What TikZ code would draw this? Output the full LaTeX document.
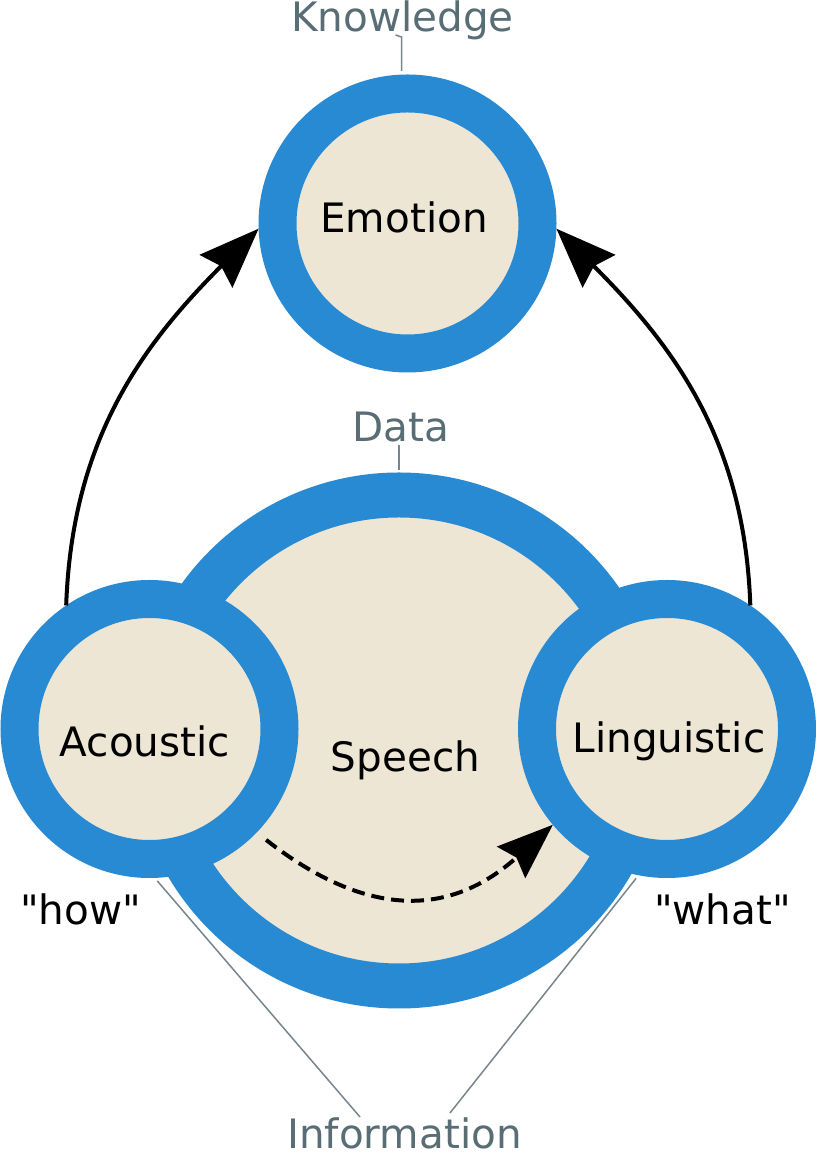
\documentclass[tikz,border=0pt]{standalone}
\usepackage{fontspec}
\setmainfont{DejaVu Sans}[Ligatures=TeXOff]
\usetikzlibrary{arrows.meta}

\definecolor{ringblue}{RGB}{41,138,212}
\definecolor{paper}{RGB}{237,230,213}
\definecolor{slate}{RGB}{88,109,116}
\definecolor{slateline}{RGB}{118,134,140}

\begin{document}
\begin{tikzpicture}[x=1pt, y=1pt,
  ring/.style={circle, draw=ringblue, fill=paper, inner sep=0pt},
  word/.style={anchor=base, inner sep=0pt, font=\fontsize{40.5}{48}\selectfont},
  tag/.style={word, text=slate},
  leader/.style={draw=slateline, line width=1.5pt},
  flow/.style={line width=4pt, -{Stealth[length=60pt, width=46pt, inset=7pt]}}]

  \useasboundingbox (0,0) rectangle (816,1159);

  % data circle
  \node[ring, line width=45pt, minimum size=491pt] (speech) at (399,418.5) {};
  % information circles
  \node[ring, line width=38pt, minimum size=260pt] (acoustic) at (149.5,430) {};
  \node[ring, line width=38pt, minimum size=260pt] (linguistic) at (667,430) {};
  % knowledge circle
  \node[ring, line width=38pt, minimum size=260pt] (emotion) at (407.5,935.5) {};

  % texts in the circles
  \node[word] (emotiontext) at (404,926) {Emotion};
  \node[word] (speechtext) at (405.5,387.3) {Speech};
  \node[word] (acoustictext) at (145,402) {Acoustic};
  \node[word] (linguistictext) at (669,406) {Linguistic};
  \node[word] (howtext) at (80.5,234) {"how"};
  \node[word] (whattext) at (722.5,234) {"what"};

  % level names
  \node[tag] (knowledge) at (402.5,1127) {Knowledge};
  \node[tag] (datatext) at (400.5,717) {Data};
  \node[tag] (info) at (404.5,10) {Information};

  % leaders to the level names
  \draw[leader] (knowledge.base) ++(-7,-3) -- ++(6,-2) -- ++(0,-34);
  \draw[leader] ([yshift=-3pt]datatext.base -| speech.north) -- ([yshift=2pt]speech.north);
  \coordinate (infoleft) at (360,42);
  \coordinate (inforight) at (450,46);
  \draw[leader, shorten <=4pt] (acoustic.-88) -- (infoleft);
  \draw[leader, shorten <=4pt] (linguistic.-101) -- (inforight);

  % arrows
  \draw[flow] (acoustic.124) to[out=88, in=225] (emotion.182);
  \draw[flow] (linguistic.56) to[out=92, in=-45] (emotion.-2);
  \draw[flow, dash pattern=on 13pt off 7pt, shorten <=12pt,
        -{Stealth[length=56pt, width=42pt, inset=7pt]}]
    (acoustic.-44) to[out=-38, in=222, looseness=1.2] (linguistic.220);

\end{tikzpicture}
\end{document}
